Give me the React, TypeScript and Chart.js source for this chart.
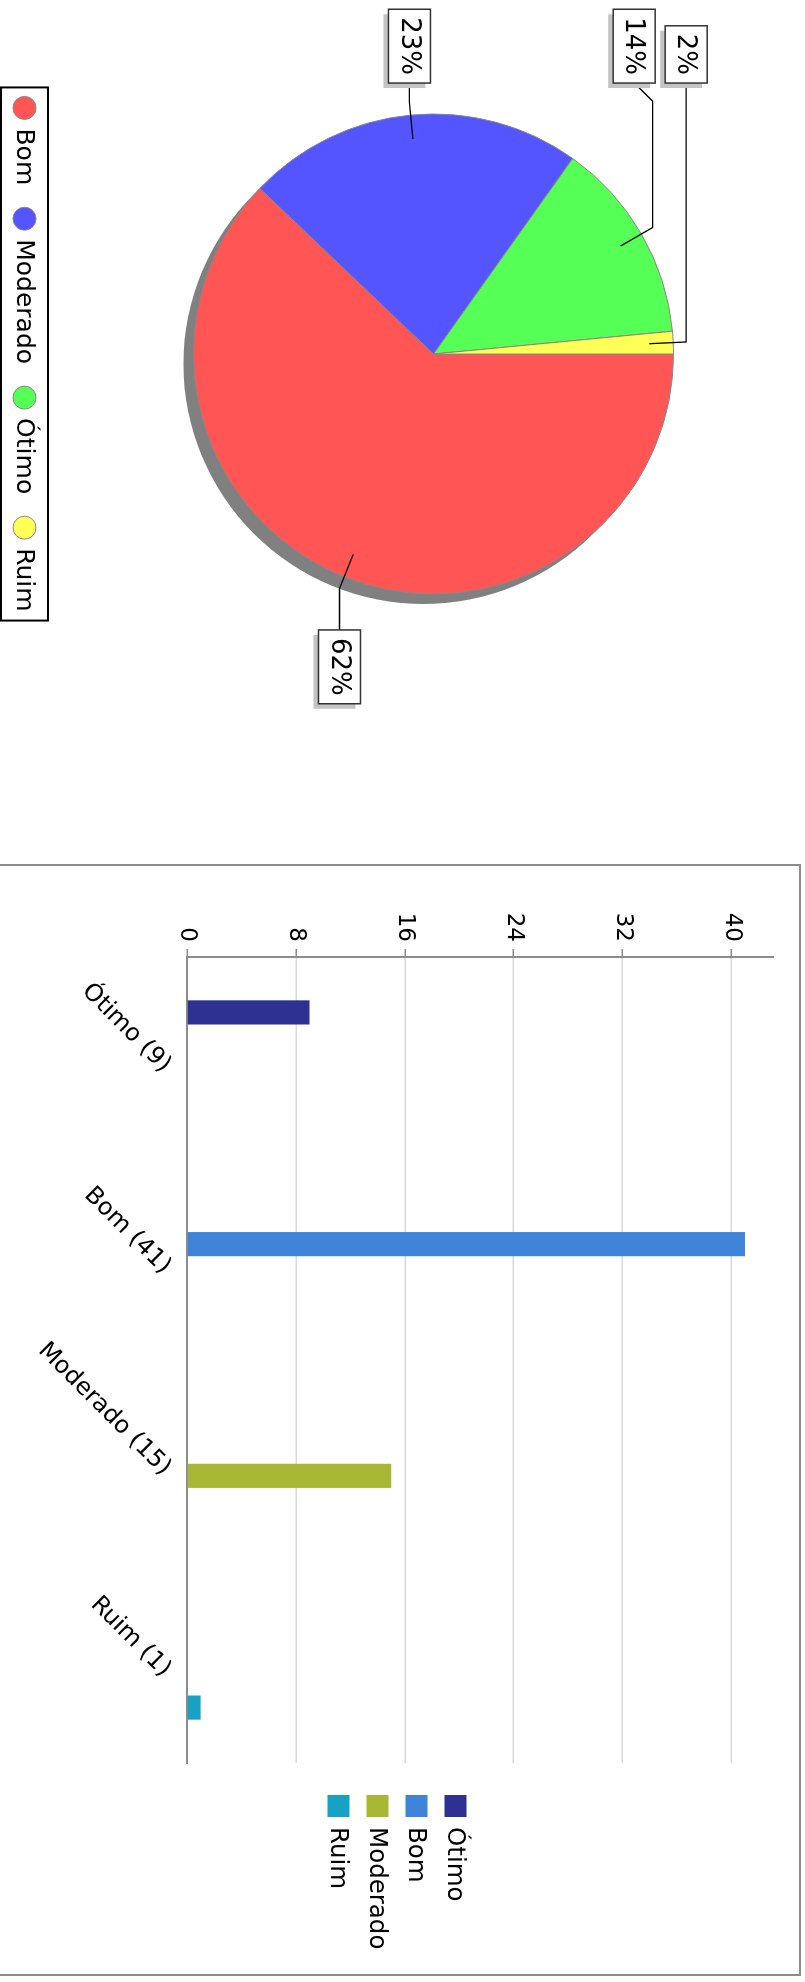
import React, { useEffect, useRef } from 'react';
import { Chart, registerables } from 'chart.js';

Chart.register(...registerables);

// ---- Pie data ----
const pieLabels = ['Bom', 'Moderado', 'Ótimo', 'Ruim'];
const pieValues = [41, 15, 9, 1];
const pieColors = ['#ff5555', '#5555ff', '#55ff55', '#ffff55'];

// ---- Bar data ----
const barCategories = ['Ótimo', 'Bom', 'Moderado', 'Ruim'];
const barCounts = [9, 41, 15, 1];
const barColors = ['#2e3192', '#3e84d8', '#a9b834', '#17a2c5'];
const yTickStep = 8;
const yAxisMax = 43.05;

const FONT = '"DejaVu Sans", sans-serif';

const pieShadowPlugin = {
  id: 'pieShadow',
  beforeDatasetsDraw(chart: any) {
    const arc = chart.getDatasetMeta(0).data[0];
    if (!arc) return;
    const { x, y, outerRadius } = arc.getProps(['x', 'y', 'outerRadius'], true);
    const ctx = chart.ctx;
    ctx.save();
    ctx.fillStyle = '#808080';
    ctx.beginPath();
    ctx.arc(x + 10, y + 10, outerRadius, 0, Math.PI * 2);
    ctx.fill();
    ctx.restore();
  },
};

const pieLabelPlugin = {
  id: 'pieLabels',
  afterDatasetsDraw(chart: any) {
    const ctx = chart.ctx;
    const meta = chart.getDatasetMeta(0);
    const total = pieValues.reduce((a, b) => a + b, 0);
    ctx.save();
    ctx.font = `26px ${FONT}`;
    const padX = 8;
    const boxH = 42;
    const gap = 10;
    const recs = meta.data.map((arc: any, i: number) => {
      const { x: cx, y: cy, outerRadius: r, startAngle, endAngle } = arc.getProps(
        ['x', 'y', 'outerRadius', 'startAngle', 'endAngle'],
        true
      );
      const mid = (startAngle + endAngle) / 2;
      const text = `${Math.round((pieValues[i] / total) * 100)}%`;
      const left = Math.cos(mid) < 0;
      return {
        cx, cy, r, mid, text, left,
        linkX: cx + Math.cos(mid) * r * 0.9,
        linkY: cy + Math.sin(mid) * r * 0.9,
        elbowX: cx + Math.cos(mid) * r * 1.054,
        elbowY: cy + Math.sin(mid) * r * 1.054,
        w: ctx.measureText(text).width + 2 * padX,
        h: boxH,
        y: 0,
      };
    });
    [true, false].forEach((side) => {
      const list = recs.filter((r: any) => r.left === side).sort((a: any, b: any) => a.elbowY - b.elbowY);
      let prevBottom = -Infinity;
      list.forEach((rec: any) => {
        let y = rec.elbowY;
        if (y - rec.h / 2 < prevBottom + gap) y = prevBottom + gap + rec.h / 2;
        rec.y = y;
        prevBottom = y + rec.h / 2;
      });
    });
    recs.forEach((rec: any) => {
      const anchorX = rec.cx + (rec.left ? -1 : 1) * rec.r * 1.054;
      const targetX = anchorX + (rec.left ? -18 : 23);
      ctx.strokeStyle = '#000';
      ctx.lineWidth = 1.3;
      ctx.beginPath();
      ctx.moveTo(rec.linkX, rec.linkY);
      ctx.lineTo(rec.elbowX, rec.elbowY);
      ctx.lineTo(anchorX, rec.elbowY);
      ctx.lineTo(targetX, rec.y);
      ctx.stroke();
      const bx = rec.left ? targetX - rec.w : targetX;
      const by = rec.y - rec.h / 2;
      ctx.fillStyle = '#c4c4c4';
      ctx.fillRect(bx + 5, by + 5, rec.w, rec.h);
      ctx.fillStyle = '#fff';
      ctx.fillRect(bx, by, rec.w, rec.h);
      ctx.strokeStyle = '#333';
      ctx.lineWidth = 1.5;
      ctx.strokeRect(bx, by, rec.w, rec.h);
      ctx.fillStyle = '#000';
      ctx.textAlign = 'center';
      ctx.textBaseline = 'middle';
      ctx.fillText(rec.text, bx + rec.w / 2, rec.y + 1);
    });
    ctx.restore();
  },
};

const pieLegendPlugin = {
  id: 'pieLegend',
  afterDraw(chart: any) {
    const ctx = chart.ctx;
    const arc = chart.getDatasetMeta(0).data[0];
    if (!arc) return;
    const cx = arc.x;
    ctx.save();
    ctx.font = `25px ${FONT}`;
    const rad = 11.5;
    const gapText = 9;
    const gapItem = 22;
    const pad = 9;
    const boxH = 47;
    const widths = pieLabels.map((l) => ctx.measureText(l).width);
    const totalW =
      pad * 2 + widths.reduce((s, w) => s + 2 * rad + gapText + w, 0) + gapItem * (pieLabels.length - 1);
    const bx = cx - totalW / 2;
    const by = chart.height - boxH - 1;
    ctx.fillStyle = '#fff';
    ctx.fillRect(bx, by, totalW, boxH);
    ctx.strokeStyle = '#000';
    ctx.lineWidth = 2;
    ctx.strokeRect(bx, by, totalW, boxH);
    let x = bx + pad;
    const cy = by + boxH / 2;
    pieLabels.forEach((label, i) => {
      ctx.beginPath();
      ctx.arc(x + rad, cy, rad, 0, Math.PI * 2);
      ctx.fillStyle = pieColors[i];
      ctx.fill();
      ctx.strokeStyle = '#888';
      ctx.lineWidth = 1;
      ctx.stroke();
      ctx.fillStyle = '#000';
      ctx.textAlign = 'left';
      ctx.textBaseline = 'middle';
      ctx.fillText(label, x + 2 * rad + gapText, cy + 1);
      x += 2 * rad + gapText + widths[i] + gapItem;
    });
    ctx.restore();
  },
};

const barLegendPlugin = {
  id: 'barLegend',
  afterDraw(chart: any) {
    const ctx = chart.ctx;
    const area = chart.chartArea;
    ctx.save();
    ctx.font = `24.5px ${FONT}`;
    const sq = 22;
    const step = 39;
    const ds = chart.data.datasets;
    const n = ds.length;
    const x0 = area.right + 32;
    const y0 = chart.height / 2 - ((n - 1) * step + sq) / 2;
    ds.forEach((d: any, k: number) => {
      const y = y0 + k * step;
      ctx.fillStyle = d.backgroundColor;
      ctx.fillRect(x0, y, sq, sq);
      ctx.fillStyle = '#000';
      ctx.textBaseline = 'middle';
      ctx.textAlign = 'left';
      ctx.fillText(d.label, x0 + sq + 10, y + sq / 2 + 1);
    });
    ctx.restore();
  },
};

export default function App() {
  const pieRef = useRef<HTMLCanvasElement>(null);
  const barRef = useRef<HTMLCanvasElement>(null);

  useEffect(() => {
    const pie = new Chart(pieRef.current as HTMLCanvasElement, {
      type: 'pie',
      data: {
        labels: pieLabels,
        datasets: [
          {
            data: pieValues,
            backgroundColor: pieColors,
            borderColor: '#888',
            borderWidth: 1,
          },
        ],
      },
      options: {
        animation: false,
        responsive: false,
        maintainAspectRatio: false,
        layout: { padding: { left: 113.5, top: 131, right: 269.5, bottom: 193 } },
        plugins: { legend: { display: false }, tooltip: { enabled: false } },
      },
      plugins: [pieShadowPlugin, pieLabelPlugin, pieLegendPlugin],
    } as any);

    const bar = new Chart(barRef.current as HTMLCanvasElement, {
      type: 'bar',
      data: {
        labels: barCategories.map((n, i) => `${n} (${barCounts[i]})`),
        datasets: barCategories.map((name, k) => ({
          label: name,
          data: barCounts.map((v, i) => (i === k ? v : null)),
          backgroundColor: barColors[k],
          barPercentage: 0.8,
          categoryPercentage: 0.6,
        })),
      },
      options: {
        animation: false,
        responsive: false,
        maintainAspectRatio: false,
        layout: { padding: { left: 0, top: 26, right: 211, bottom: 0 } },
        plugins: { legend: { display: false }, tooltip: { enabled: false } },
        scales: {
          x: {
            grid: { display: false, drawTicks: false },
            border: { color: '#8c8c8c', width: 2 },
            ticks: {
              color: '#000',
              font: { family: FONT, size: 24 },
              minRotation: 45,
              maxRotation: 45,
              padding: 10,
              labelOffset: 11,
              autoSkip: false,
            },
            afterFit: (s: any) => {
              s.height = 192;
            },
          },
          y: {
            min: 0,
            max: yAxisMax,
            ticks: {
              stepSize: yTickStep,
              includeBounds: false,
              color: '#000',
              font: { family: FONT, size: 23 },
              padding: 7,
            },
            grid: { color: '#d9d9d9', lineWidth: 1.5, tickColor: '#8c8c8c', tickLength: 8, drawTicks: true },
            border: { color: '#8c8c8c', width: 2 },
            afterFit: (s: any) => {
              s.width = 91;
            },
          },
        },
      },
      plugins: [barLegendPlugin],
    } as any);

    return () => {
      pie.destroy();
      bar.destroy();
    };
  }, []);

  return (
    <div
      style={{
        position: 'absolute',
        left: 0,
        top: 0,
        width: 805,
        height: 1982,
        overflow: 'hidden',
        background: '#fff',
      }}
    >
      <div
        style={{
          position: 'absolute',
          left: 0,
          top: 0,
          width: 1982,
          height: 805,
          transformOrigin: '0 0',
          transform: 'translate(805px, 0) rotate(90deg)',
        }}
      >
        <canvas
          ref={pieRef}
          width={864}
          height={805}
          style={{ position: 'absolute', left: 0, top: 0, width: 864, height: 805 }}
        />
        <div
          style={{
            position: 'absolute',
            left: 864,
            top: 4,
            width: 1112,
            height: 808,
            border: '2px solid #8c8c8c',
            boxSizing: 'border-box',
          }}
        >
          <canvas
            ref={barRef}
            width={1108}
            height={804}
            style={{ position: 'absolute', left: 0, top: 0, width: 1108, height: 804 }}
          />
        </div>
      </div>
    </div>
  );
}
